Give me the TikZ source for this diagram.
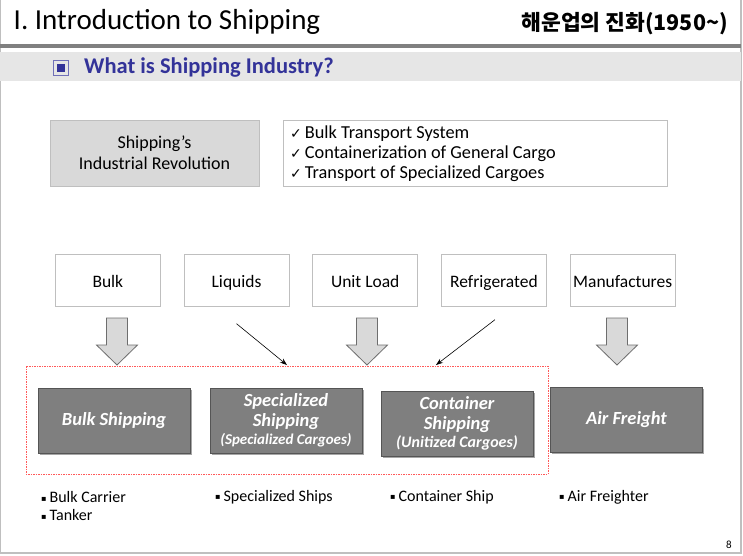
\documentclass[tikz,border=0pt]{standalone}
\usepackage{fontspec}
\setmainfont{Carlito}
\newfontfamily\symfont{DejaVu Sans}
\newfontfamily\krfont{Noto Sans CJK KR}
\definecolor{boxline}{RGB}{191,191,191}
\definecolor{lightfill}{RGB}{217,217,217}
\definecolor{bandfill}{RGB}{230,230,230}
\definecolor{rulegray}{RGB}{128,128,128}
\definecolor{darkfill}{RGB}{127,127,127}
\definecolor{darkline}{RGB}{85,85,85}
\definecolor{arrowline}{RGB}{110,110,110}
\definecolor{titleblue}{RGB}{51,51,153}
\definecolor{dashred}{RGB}{255,90,90}
\usetikzlibrary{arrows.meta,positioning,calc,shadows}

\newcommand{\fatarrow}[1]{% block arrow centred at x = #1
  \draw[fatarr] (#1-10.5,318) -- (#1+10.5,318) -- (#1+10.5,345) -- (#1+20.5,345)
    -- (#1,365) -- (#1-20.5,345) -- (#1-10.5,345) -- cycle;}
\newcommand{\sq}{\raisebox{1.5pt}{\symfont\fontsize{8}{10}\selectfont\char"25AA}\hspace{3pt}}

\begin{document}
\begin{tikzpicture}[x=1pt,y=-1pt,
  every node/.style={inner sep=0pt},
  topbox/.style={draw=boxline,line width=0.7pt,minimum width=105pt,minimum height=52pt,
    text height=18pt,text depth=3.5pt,font=\fontsize{17.5}{20}\selectfont},
  shipbox/.style={draw=darkline,fill=darkfill,line width=0.8pt,minimum width=152pt,
    minimum height=65pt,align=center,text=white,font=\fontsize{18.5}{19}\selectfont\bfseries\itshape,
    drop shadow={shadow xshift=1.5pt,shadow yshift=-1.5pt,opacity=0.35,fill=black}},
  fatarr/.style={draw=arrowline,fill=lightfill,line width=0.8pt,line join=miter},
  thinarr/.style={-{Stealth[length=7pt,width=5pt]},line width=0.6pt},
  itemtext/.style={anchor=west,font=\fontsize{16}{18}\selectfont}]
\useasboundingbox (0,0) rectangle (743,555);

% slide frame and header
\draw[boxline,line width=1.5pt] (0.5,0) -- (0.5,553) -- (741,553) -- (741,0);
\fill[rulegray] (0,43.5) rectangle (741,47.5);
\fill[bandfill] (0,52) rectangle (741,80.5);
\node[anchor=west,font=\fontsize{29}{32}\selectfont] (title) at (13.5,22) {I. Introduction to Shipping};
\node[anchor=east,font=\krfont\fontsize{21.5}{24}\selectfont\bfseries] (kotitle) at (728,24) {해운업의 진화(1950\textasciitilde)};
\draw[titleblue!70,line width=1pt] (53.5,60.5) rectangle (68.5,75);
\fill[titleblue] (57,64) rectangle (65,71.5);
\node[anchor=west,text=titleblue,font=\fontsize{22.5}{24}\selectfont\bfseries] (subtitle) at (84,67.5) {What is Shipping Industry?};

% revolution box and check list
\node[draw=boxline,fill=lightfill,line width=0.7pt,minimum width=209pt,minimum height=66pt,
  align=center,font=\fontsize{18}{21}\selectfont] (revolution) at (154.5,153) {Shipping’s\\Industrial Revolution};
\node[draw=boxline,line width=0.7pt,minimum width=384pt,minimum height=66pt] (checks) at (475,153) {};
\foreach \txt [count=\i] in {Bulk Transport System,Containerization of General Cargo,Transport of Specialized Cargoes}
  \node[anchor=west,font=\fontsize{18.3}{20}\selectfont] (check\i) at (290,114+20*\i) {{\symfont\fontsize{14}{14}\selectfont ✓}\hspace{3pt}\txt};

% cargo types
\node[topbox,anchor=north west] (bulk) at (55,254) {Bulk};
\node[topbox,right=23pt of bulk] (liquids) {Liquids};
\node[topbox,right=23pt of liquids] (unitload) {Unit Load};
\node[topbox,right=23pt of unitload] (reefer) {Refrigerated};
\node[topbox,right=23pt of reefer] (manuf) {Manufactures};

% shipping sectors
\draw[dashred,line width=0.6pt,dash pattern=on 1.5pt off 1pt] (26,366) rectangle (548,474);
\node[shipbox] (bulkship) at (114,420.5) {Bulk Shipping};
\node[shipbox] (specship) at (286,420.5) {Specialized\\[0.5pt]Shipping\\[-1pt]{\fontsize{15}{16}\selectfont(Specialized Cargoes)}};
\node[shipbox] (contship) at (457,423.5) {Container\\[0.5pt]Shipping\\[-1pt]{\fontsize{16}{17}\selectfont(Unitized Cargoes)}};
\node[shipbox] (airship) at (626.5,420) {Air Freight};

% flows
\fatarrow{117}
\fatarrow{367}
\fatarrow{617}
\coordinate (liqend) at (287,365);
\coordinate (reefend) at (436,365);
\draw[thinarr] ($(liquids.south)+(0,17)$) -- (liqend);
\draw[thinarr] ($(reefer.south)+(1,13)$) -- (reefend);

% vessels
\node[itemtext] (carrier) at (41,497) {\sq Bulk Carrier};
\node[itemtext] (tanker) at (41,515) {\sq Tanker};
\node[itemtext] (specships) at (215,497) {\sq Specialized Ships};
\node[itemtext] (contships) at (390,497) {\sq Container Ship};
\node[itemtext] (freighter) at (559,497) {\sq Air Freighter};
\node[font=\fontsize{11}{12}\selectfont] (pageno) at (729,545) {8};
\end{tikzpicture}
\end{document}
